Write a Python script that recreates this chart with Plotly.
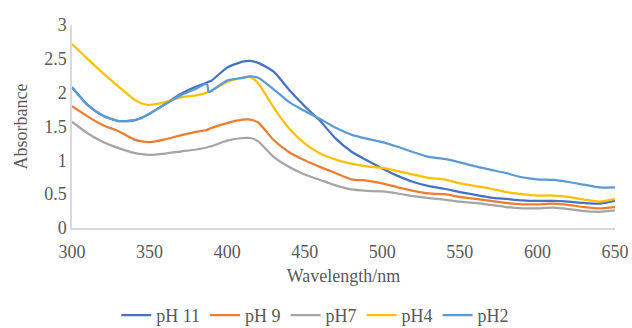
import plotly.graph_objects as go

wavelength = [300, 310, 320, 330, 340, 345, 350, 360, 370, 380, 387, 388, 390, 400, 410, 415, 420,
              430, 440, 450, 460, 470, 480, 490, 500, 510, 520, 530, 540, 550, 560, 570, 580,
              590, 600, 610, 620, 630, 640, 650]

ph11 = [2.08, 1.82, 1.66, 1.58, 1.59, 1.63, 1.69, 1.83, 1.98, 2.09, 2.15, 2.16, 2.18, 2.37, 2.46, 2.47, 2.44,
        2.31, 2.04, 1.80, 1.58, 1.32, 1.13, 1.00, 0.88, 0.77, 0.68, 0.62, 0.58, 0.53, 0.49, 0.45, 0.43,
        0.41, 0.40, 0.40, 0.39, 0.37, 0.36, 0.40]
ph9 = [1.80, 1.65, 1.52, 1.43, 1.31, 1.28, 1.27, 1.31, 1.37, 1.42, 1.45, 1.46, 1.48, 1.55, 1.60, 1.60, 1.56,
       1.30, 1.12, 1.00, 0.90, 0.81, 0.72, 0.70, 0.66, 0.60, 0.55, 0.51, 0.50, 0.46, 0.43, 0.40, 0.37,
       0.35, 0.35, 0.36, 0.34, 0.31, 0.29, 0.31]
ph7 = [1.57, 1.40, 1.27, 1.18, 1.11, 1.09, 1.08, 1.10, 1.13, 1.16, 1.19, 1.20, 1.21, 1.29, 1.33, 1.33, 1.28,
       1.05, 0.90, 0.79, 0.71, 0.63, 0.57, 0.55, 0.54, 0.51, 0.47, 0.44, 0.42, 0.39, 0.37, 0.34, 0.31,
       0.29, 0.29, 0.30, 0.28, 0.25, 0.24, 0.26]
ph4 = [2.72, 2.50, 2.29, 2.09, 1.90, 1.84, 1.82, 1.86, 1.93, 1.96, 2.00, 2.01, 2.03, 2.16, 2.22, 2.23, 2.14,
       1.78, 1.47, 1.25, 1.10, 1.01, 0.95, 0.91, 0.89, 0.84, 0.79, 0.74, 0.72, 0.66, 0.62, 0.58, 0.53,
       0.50, 0.48, 0.48, 0.46, 0.42, 0.39, 0.43]
ph2 = [2.08, 1.82, 1.66, 1.58, 1.59, 1.63, 1.69, 1.83, 1.96, 2.06, 2.13, 2.01, 2.03, 2.18, 2.22, 2.24, 2.22,
       2.05, 1.86, 1.73, 1.61, 1.48, 1.38, 1.32, 1.27, 1.20, 1.12, 1.05, 1.02, 0.97, 0.91, 0.86, 0.81,
       0.75, 0.72, 0.71, 0.68, 0.64, 0.60, 0.60]

series_names = ["pH 11", "pH 9", "pH7", "pH4", "pH2"]
series_values = [ph11, ph9, ph7, ph4, ph2]
colors = ["#4472C4", "#ED7D31", "#A5A5A5", "#FFC000", "#5B9BD5"]

x_ticks = [300, 350, 400, 450, 500, 550, 600, 650]
y_ticks = [0, 0.5, 1, 1.5, 2, 2.5, 3]
y_tick_labels = ["0", "0.5", "1", "1.5", "2", "2.5", "3"]

fig = go.Figure()
for name, vals, c in zip(series_names, series_values, colors):
    fig.add_trace(go.Scatter(x=wavelength, y=vals, name=name, mode="lines",
                             line=dict(color=c, width=2.25, shape="spline", smoothing=0.6)))

font_family = "Liberation Serif"
fs = 18
fig.update_layout(
    width=632, height=328,
    margin=dict(l=72, r=17, t=25, b=100, autoexpand=False),
    paper_bgcolor="white", plot_bgcolor="white",
    font=dict(family=font_family, size=fs, color="#595959"),
    showlegend=True,
    legend=dict(orientation="h", x=0.448, xanchor="center",
                yref="container", y=0.038, yanchor="middle",
                font=dict(size=fs, color="#595959"), itemwidth=30, tracegroupgap=0),
    xaxis=dict(range=[300, 650], tickvals=x_ticks, showgrid=False, zeroline=False,
               showline=True, linecolor="#D9D9D9", linewidth=1.5, ticks="",
               ticklabelstandoff=7, automargin=False,
               title=dict(text="Wavelength/nm", font=dict(size=fs, color="#595959"), standoff=8)),
    yaxis=dict(range=[0, 3], tickvals=y_ticks, ticktext=y_tick_labels, showgrid=False,
               zeroline=False, showline=True, linecolor="#D9D9D9", linewidth=1.5, ticks="",
               automargin=False,
               title=dict(text="Absorbance", font=dict(size=fs, color="#595959"), standoff=12)),
)

fig.write_html("out.html")
